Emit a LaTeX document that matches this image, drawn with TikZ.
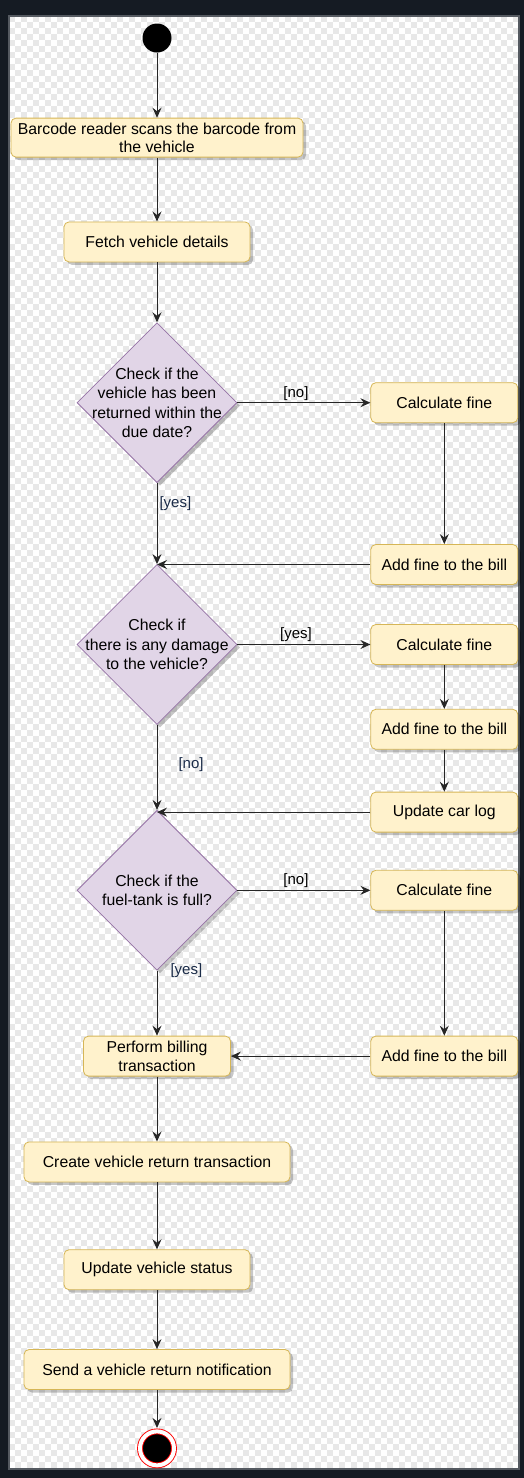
\documentclass[tikz,border=0pt]{standalone}
\usepackage{fontspec}
\setmainfont{Liberation Sans}
\usepackage{xcolor}
\usetikzlibrary{shapes.geometric, arrows.meta, positioning, calc, shadows}

\definecolor{actfill}{HTML}{FFF2CC}
\definecolor{actdraw}{HTML}{D6B656}
\definecolor{decfill}{HTML}{E1D5E7}
\definecolor{decdraw}{HTML}{9673A6}
\definecolor{guardblue}{HTML}{1A2B48}
\definecolor{framedark}{HTML}{151B23}
\definecolor{framegray}{HTML}{555A61}
\definecolor{checkgray}{HTML}{E8E8E8}

\begin{document}
\begin{tikzpicture}[
        x=1pt, y=-1pt,
        % 1. VISUAL STYLES
        base/.style={
            align=center, font=\fontsize{15.8}{18.5}\selectfont, line width=0.8pt,
            drop shadow={shadow xshift=3pt, shadow yshift=-3pt, fill=black, opacity=0.22}
        },
        % Action blocks (light yellow fill, ochre border)
        action/.style={base, draw=actdraw, fill=actfill, rounded corners=5pt,
            minimum height=40pt, minimum width=147pt, inner sep=1pt},
        % Decision blocks (light purple fill, purple border)
        decision/.style={base, diamond, draw=decdraw, fill=decfill, aspect=1,
            minimum width=160pt, minimum height=160pt, inner sep=-15pt,
            font=\fontsize{15.8}{19.5}\selectfont},
        % Start / end points
        startnode/.style={circle, fill=black, minimum size=29pt, inner sep=0pt},
        endnode/.style={circle, fill=black, draw=red, double=white, double distance=4pt,
            line width=0.9pt, minimum size=34pt, inner sep=0pt},
        % Guard labels
        guard/.style={font=\fontsize{15}{17}\selectfont, inner sep=2pt},
        guardv/.style={guard, text=guardblue},
        % Arrow style
        arrow/.style={line width=1pt, draw=black!85,
            -{Stealth[length=10pt, width=9pt, inset=3.5pt]}}
    ]

        % 0. BACKGROUND (dark frame, checkered canvas)
        \useasboundingbox (0,0) rectangle (524,1478);
        \fill[framedark] (0,0) rectangle (524,1478);
        \begin{scope}
            \clip (9,16) rectangle (519,1469);
            \fill[white] (9,16) rectangle (519,1469);
            \foreach \r in {0,...,242} {
                \pgfmathsetmacro\ph{mod(\r,2)*6}
                \draw[checkgray, line width=6pt, dash pattern=on 6pt off 6pt, dash phase=\ph pt]
                    (9,{19+6*\r}) -- (519,{19+6*\r});
            }
        \end{scope}
        \draw[framegray, line width=1.5pt] (9,16) rectangle (519,1469);

        % 2. BLOCKS (NODES)
        \node[startnode] (start) at (157,38) {};

        \node[action, minimum width=292pt, minimum height=39pt, below=65pt of start] (scan)
            {Barcode reader scans the barcode from\\the vehicle};

        \node[action, minimum width=186pt, below=64pt of scan] (fetch) {Fetch vehicle details};

        \node[decision, below=60pt of fetch] (dueCheck)
            {Check if the\\vehicle has been\\returned within the\\due date?};
        \node[action, right=133pt of dueCheck] (lateFine) {Calculate fine};
        \node[action, below=121pt of lateFine] (lateBill) {Add fine to the bill};

        \node[decision, below=81pt of dueCheck] (damageCheck)
            {Check if\\there is any damage\\to the vehicle?};
        \node[action, right=133pt of damageCheck] (damageFine) {Calculate fine};
        \node[action, below=44pt of damageFine] (damageBill) {Add fine to the bill};
        \node[action, below=42pt of damageBill] (carLog) {Update car log};

        \node[decision, below=85pt of damageCheck] (fuelCheck)
            {Check if the\\fuel-tank is full?};
        \node[action, right=133pt of fuelCheck] (fuelFine) {Calculate fine};
        \node[action, below=125pt of fuelFine] (fuelBill) {Add fine to the bill};

        \node[action, below=65pt of fuelCheck] (billing) {Perform billing\\transaction};
        \node[action, minimum width=266pt, below=65pt of billing] (returnTx)
            {Create vehicle return transaction};
        \node[action, minimum width=186pt, below=67pt of returnTx] (statusUpd)
            {Update vehicle status};
        \node[action, minimum width=266pt, below=59pt of statusUpd] (notify)
            {Send a vehicle return notification};

        \node[endnode, below=41pt of notify] (stop) {};

        % 3. ARROWS
        \draw[arrow] (start) -- (scan);
        \draw[arrow] (scan) -- (fetch);
        \draw[arrow] (fetch) -- (dueCheck);

        \draw[arrow] (dueCheck) -- node[guard, pos=0.44, above] {[no]} (lateFine);
        \draw[arrow] (lateFine) -- (lateBill);
        \draw[arrow] (lateBill) -- (lateBill -| damageCheck.north);
        \draw[arrow] (dueCheck) -- node[guardv, pos=0.256, right] {[yes]} (damageCheck);

        \draw[arrow] (damageCheck) -- node[guard, pos=0.44, above] {[yes]} (damageFine);
        \draw[arrow] (damageFine) -- (damageBill);
        \draw[arrow] (damageBill) -- (carLog);
        \draw[arrow] (carLog) -- (carLog -| fuelCheck.north);
        \draw[arrow] (damageCheck) -- node[guardv, pos=0.47, right, xshift=19pt] {[no]} (fuelCheck);

        \draw[arrow] (fuelCheck) -- node[guard, pos=0.44, above] {[no]} (fuelFine);
        \draw[arrow] (fuelFine) -- (fuelBill);
        \draw[arrow] (fuelBill) -- (billing);
        \draw[arrow] (fuelCheck) -- node[guardv, pos=0, right, xshift=11pt] {[yes]} (billing);

        \draw[arrow] (billing) -- (returnTx);
        \draw[arrow] (returnTx) -- (statusUpd);
        \draw[arrow] (statusUpd) -- (notify);
        \draw[arrow, shorten >=3pt] (notify) -- (stop);

    \end{tikzpicture}
\end{document}
